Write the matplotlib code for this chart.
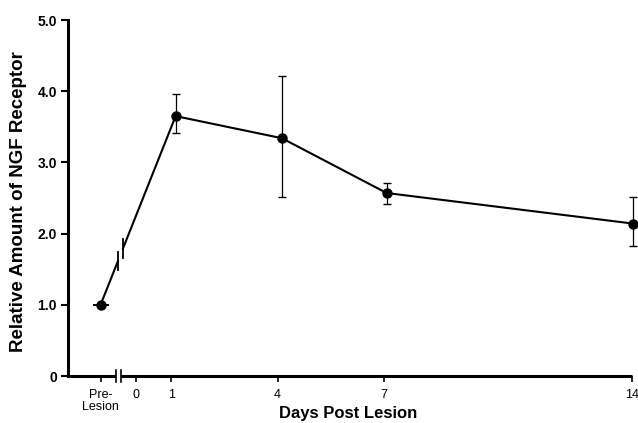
import numpy as np
import matplotlib.pyplot as plt

plt.rcParams['font.family'] = ['Liberation Sans', 'DejaVu Sans']

# data (pre-lesion placed at x = -1)
days = [-1.0, 1.12, 4.12, 7.08, 14.05]
nivo = [1.0, 3.65, 3.34, 2.57, 2.14]
err_dol = [0.0, 0.24, 0.83, 0.16, 0.32]
err_gor = [0.0, 0.31, 0.87, 0.14, 0.38]

xt_poz = [-1, 0, 1, 4, 7, 14]
xt_lab = ['Pre-\nLesion', '0', '1', '4', '7', '14']
yt_poz = [0, 1, 2, 3, 4, 5]
yt_lab = ['0', '1.0', '2.0', '3.0', '4.0', '5.0']

fig = plt.figure(figsize=(6.38, 4.23), dpi=100)
ax = fig.add_axes([68 / 638, 47 / 423, 1 - 68 / 638, 356 / 423])

# linia z przerwa miedzy pre-lesion a dniem 0
x_br1, x_br2 = -0.51, -0.37
nach = (nivo[1] - nivo[0]) / (days[1] - days[0])
y_br1 = nivo[0] + nach * (x_br1 - days[0])
y_br2 = nivo[0] + nach * (x_br2 - days[0])
ax.plot([days[0], x_br1], [nivo[0], y_br1], color='black', lw=1.5)
ax.plot([x_br2] + days[1:], [y_br2] + nivo[1:], color='black', lw=1.5)
ax.plot([x_br1, x_br1], [y_br1 - 0.13, y_br1 + 0.13], color='black', lw=1.3)
ax.plot([x_br2, x_br2], [y_br2 - 0.13, y_br2 + 0.13], color='black', lw=1.3)

# punkty z bledami
ax.errorbar(days[1:], nivo[1:], yerr=[err_dol[1:], err_gor[1:]], fmt='o',
            color='black', ms=6.5, elinewidth=0.9, capsize=3, capthick=1.0)
ax.errorbar(days[:1], nivo[:1], yerr=[[0], [0]], fmt='o', color='black',
            ms=6.5, capsize=6, capthick=1.2)

ax.set_xlim(-1.92, 14.18)
ax.set_ylim(0, 5.0)

# osie
for s in ['top', 'right', 'bottom']:
    ax.spines[s].set_visible(False)
ax.spines['left'].set_linewidth(2.2)
ax.spines['left'].set_bounds(0, 5.0)
ax.plot([-1.92, -0.56], [0, 0], color='black', lw=2.2, clip_on=False,
        solid_capstyle='butt')
ax.plot([-0.43, 14.0], [0, 0], color='black', lw=2.2, clip_on=False,
        solid_capstyle='butt')
for xb in [-0.56, -0.43]:
    ax.plot([xb, xb], [-0.08, 0.08], color='black', lw=1.2, clip_on=False)

ax.set_xticks(xt_poz)
ax.set_xticklabels(xt_lab, fontsize=9, linespacing=1.0)
ax.set_yticks(yt_poz)
ax.set_yticklabels(yt_lab, fontsize=10, fontweight='bold')
ax.tick_params(axis='x', direction='out', length=4, width=1.2, pad=5)
ax.tick_params(axis='y', direction='out', length=5, width=1.5, pad=3)

# podpisy osi
fig.text(348 / 638, 5 / 423, 'Days Post Lesion', fontsize=12,
         fontweight='bold', ha='center', va='baseline')
fig.text(19 / 638, 1 - 202 / 423, 'Relative Amount of NGF Receptor',
         fontsize=13.5, fontweight='bold', ha='center', va='center',
         rotation=90)

fig.savefig('out.png', dpi=100)
